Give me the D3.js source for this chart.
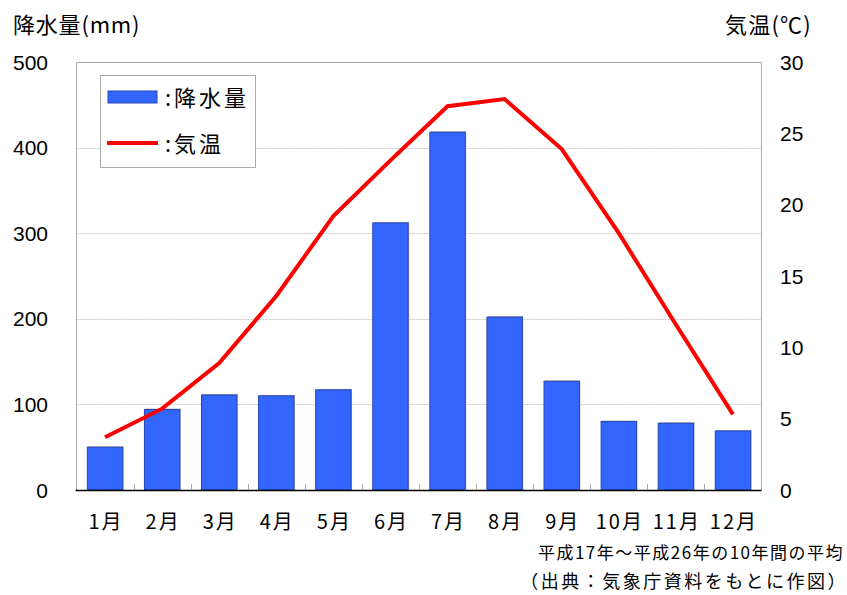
<!DOCTYPE html>
<html>
<head>
<meta charset="utf-8">
<script src="https://cdn.jsdelivr.net/npm/d3@7"></script>
<style>
  body { margin: 0; background: #fff; }
  svg text { fill: #000; }
  .jp { font-family: "Noto Sans CJK JP", "Noto Sans", sans-serif; }
  .num { font-family: "Liberation Sans", Arial, sans-serif; }
</style>
</head>
<body>
<svg id="chart" width="847" height="595"></svg>
<script>
const months = ['1月', '2月', '3月', '4月', '5月', '6月', '7月', '8月', '9月', '10月', '11月', '12月'];
const rainfall = [50, 94, 111, 110, 117, 312, 418, 202, 127, 80, 78, 69];
const temperature = [3.7, 5.7, 8.9, 13.6, 19.2, 23.1, 26.9, 27.4, 23.9, 18.0, 11.6, 5.3];
const rainTicks = [0, 100, 200, 300, 400, 500];
const tempTicks = [0, 5, 10, 15, 20, 25, 30];

const svg = d3.select('#chart');
const plotLeft = 76.5, plotRight = 761.5, plotTop = 62, plotBottom = 490;

const x = d3.scaleBand().domain(months).range([plotLeft, plotRight]).paddingInner(0.38).paddingOuter(0.19);
const xc = d3.scaleBand().domain(months).range([plotLeft, plotRight]);
const yRain = d3.scaleLinear().domain([0, 500]).range([plotBottom, plotTop]);
const yTemp = d3.scaleLinear().domain([0, 30]).range([plotBottom, plotTop]);

// grid lines
svg.append('g')
  .selectAll('line')
  .data(rainTicks.filter((d) => d > 0 && d < 500))
  .join('line')
  .attr('x1', plotLeft).attr('x2', plotRight)
  .attr('y1', (d) => Math.round(yRain(d)) + 0.5)
  .attr('y2', (d) => Math.round(yRain(d)) + 0.5)
  .attr('stroke', '#c8c8c8')
  .attr('stroke-dasharray', '2,1');

// plot frame (top, left, right)
svg.append('path')
  .attr('d', `M${plotLeft},${plotBottom}V${plotTop + 0.5}H${plotRight}V${plotBottom}`)
  .attr('fill', 'none')
  .attr('stroke', '#aaa');

// bars (grey shadow edge on top/right, like the original)
const bars = svg.append('g');
bars.selectAll('rect.shadow')
  .data(rainfall)
  .join('rect')
  .attr('class', 'shadow')
  .attr('x', (d, i) => x(months[i]) + 1)
  .attr('y', (d) => yRain(d) - 1)
  .attr('width', x.bandwidth())
  .attr('height', (d) => plotBottom - yRain(d) + 1)
  .attr('fill', '#b8b8b8');
bars.selectAll('rect.bar')
  .data(rainfall)
  .join('rect')
  .attr('class', 'bar')
  .attr('x', (d, i) => x(months[i]))
  .attr('y', (d) => yRain(d))
  .attr('width', x.bandwidth())
  .attr('height', (d) => plotBottom - yRain(d))
  .attr('fill', '#3366ff')
  .attr('stroke', '#2347b5')
  .attr('stroke-width', 1);

// bottom axis
svg.append('line')
  .attr('x1', plotLeft - 1).attr('x2', plotRight)
  .attr('y1', plotBottom + 0.5).attr('y2', plotBottom + 0.5)
  .attr('stroke', '#000').attr('stroke-width', 1.5);

svg.append('g')
  .selectAll('line')
  .data(months.slice(1))
  .join('line')
  .attr('x1', (d) => Math.round(xc(d)) + 0.5)
  .attr('x2', (d) => Math.round(xc(d)) + 0.5)
  .attr('y1', plotBottom - 6).attr('y2', plotBottom)
  .attr('stroke', '#aaa');

svg.append('g')
  .selectAll('text')
  .data(months)
  .join('text')
  .attr('class', 'jp')
  .attr('x', (d) => xc(d) + xc.bandwidth() / 2 + 1)
  .attr('y', 529)
  .attr('text-anchor', 'middle')
  .attr('font-size', 20)
  .attr('letter-spacing', 2)
  .text((d) => d);

// temperature line
const line = d3.line()
  .x((d, i) => xc(months[i]) + xc.bandwidth() / 2)
  .y((d) => yTemp(d));

svg.append('path')
  .datum(temperature)
  .attr('d', line)
  .attr('fill', 'none')
  .attr('stroke', '#ff0000')
  .attr('stroke-width', 4);

// left axis labels
svg.append('g')
  .selectAll('text')
  .data(rainTicks)
  .join('text')
  .attr('class', 'num')
  .attr('x', 48)
  .attr('y', (d) => yRain(d) + 7.5)
  .attr('text-anchor', 'end')
  .attr('font-size', 21)
  .text((d) => d);

// right axis labels
svg.append('g')
  .selectAll('text')
  .data(tempTicks)
  .join('text')
  .attr('class', 'num')
  .attr('x', 780)
  .attr('y', (d) => yTemp(d) + 7.5)
  .attr('font-size', 21)
  .text((d) => d);

// axis titles
svg.append('text').attr('class', 'jp')
  .attr('x', 13).attr('y', 33).attr('font-size', 22).attr('letter-spacing', 0.8)
  .text('降水量(mm)');
svg.append('text').attr('class', 'jp')
  .attr('x', 725).attr('y', 33).attr('font-size', 22).attr('letter-spacing', 1.2)
  .text('気温(℃)');

// legend
const legend = svg.append('g');
legend.append('rect')
  .attr('x', 100.5).attr('y', 75.5).attr('width', 155).attr('height', 92)
  .attr('fill', '#fff').attr('stroke', '#aaa');
legend.append('rect')
  .attr('x', 108).attr('y', 91).attr('width', 49).attr('height', 12)
  .attr('fill', '#3366ff').attr('stroke', '#2347b5');
legend.append('line')
  .attr('x1', 107).attr('x2', 158).attr('y1', 143).attr('y2', 143)
  .attr('stroke', '#ff0000').attr('stroke-width', 4);
legend.append('text').attr('class', 'jp')
  .attr('x', 165).attr('y', 106).attr('font-size', 22).attr('letter-spacing', 3)
  .text(':降水量');
legend.append('text').attr('class', 'jp')
  .attr('x', 165).attr('y', 152).attr('font-size', 22).attr('letter-spacing', 3)
  .text(':気温');

// notes
svg.append('text').attr('class', 'jp')
  .attr('x', 844).attr('y', 559).attr('text-anchor', 'end').attr('font-size', 17)
  .attr('letter-spacing', 1.5)
  .text('平成17年〜平成26年の10年間の平均');
svg.append('text').attr('class', 'jp')
  .attr('x', 848).attr('y', 588).attr('text-anchor', 'end').attr('font-size', 18)
  .attr('letter-spacing', 2.5)
  .text('（出典：気象庁資料をもとに作図）');
</script>
</body>
</html>
